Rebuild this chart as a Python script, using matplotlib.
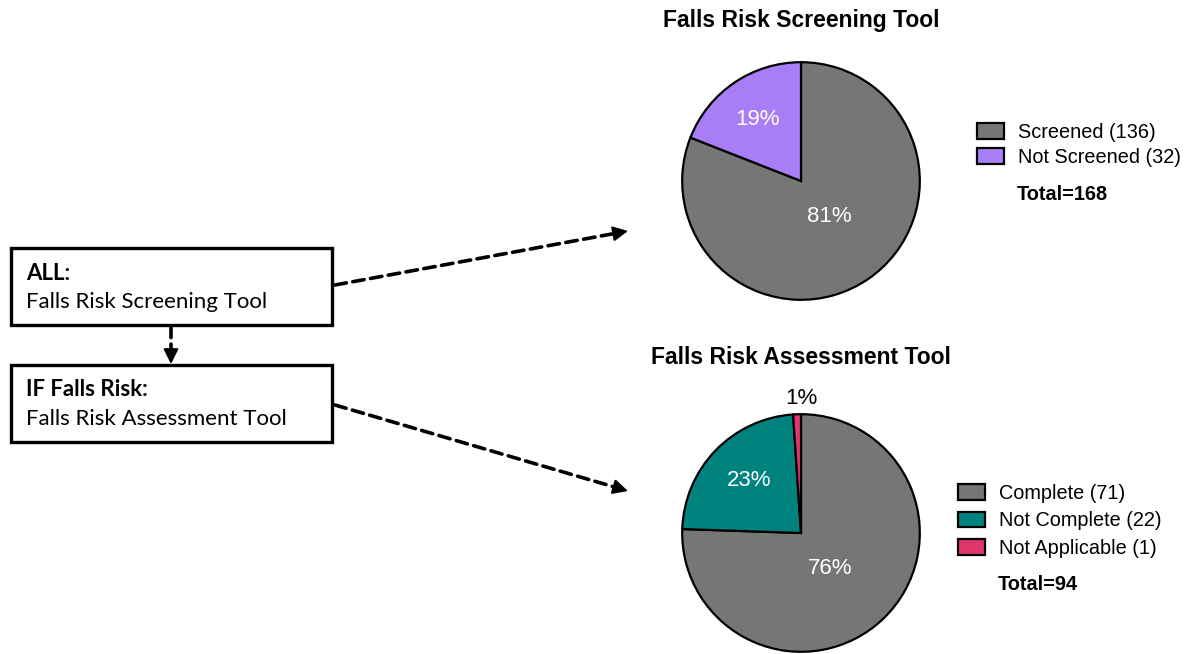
import matplotlib
matplotlib.use("Agg")
import matplotlib.pyplot as plt
import numpy as np
from matplotlib.patches import Rectangle

# ---------------------------------------
# Datos
# ---------------------------------------
screen_labels = ["Screened", "Not Screened"]
screen_counts = [136, 32]
screen_colors = ["#767676", "#A87EF7"]

assess_labels = ["Complete", "Not Complete", "Not Applicable"]
assess_counts = [71, 22, 1]
assess_colors = ["#767676", "#00837E", "#E2356B"]

W, H = 1186, 654
fig = plt.figure(figsize=(W / 100, H / 100), dpi=100)

# capa de fondo en pixeles para cajas y flechas
ax0 = fig.add_axes([0, 0, 1, 1])
ax0.set_xlim(0, W)
ax0.set_ylim(H, 0)
ax0.axis("off")

sans = ["Liberation Sans", "DejaVu Sans"]
box_font = ["Lato", "DejaVu Sans"]
pct_size = 16
leg_size = 14.3


def pie_axes(cx, cy, r):
    ax = fig.add_axes([(cx - r) / W, (H - cy - r) / H, 2 * r / W, 2 * r / H])
    ax.axis("off")
    return ax


def fix_limits(ax):
    # pie() pone limites de +-1.25, se ajustan al radio
    ax.set_xlim(-1, 1)
    ax.set_ylim(-1, 1)
    ax.set_aspect("equal")


def pct_labels(counts):
    tot = sum(counts)
    return [f"{round(100 * c / tot)}%" for c in counts]


def dashed_arrow(x0, y0, x1, y1):
    # linea punteada + punta solida (la punta no debe quedar punteada)
    d = np.array([x1 - x0, y1 - y0], dtype=float)
    d /= np.hypot(*d)
    bx, by = x1 - 13 * d[0], y1 - 13 * d[1]
    ax0.annotate("", xy=(bx, by), xytext=(x0, y0),
                 arrowprops=dict(arrowstyle="-", color="black", linestyle=(0, (3.2, 1.8)),
                                 linewidth=2.6, shrinkA=0, shrinkB=0))
    ax0.annotate("", xy=(x1, y1), xytext=(bx - 2 * d[0], by - 2 * d[1]),
                 arrowprops=dict(arrowstyle="-|>,head_length=0.9,head_width=0.45",
                                 color="black", linewidth=1.5, shrinkA=0, shrinkB=0))


# ---------------------------------------
# Pie 1: Screening
# ---------------------------------------
ax1 = pie_axes(801, 181, 120)
w1, _ = ax1.pie(screen_counts, colors=screen_colors, startangle=90, counterclock=False,
                radius=0.99, wedgeprops=dict(edgecolor="black", linewidth=1.6))
fix_limits(ax1)
p1 = pct_labels(screen_counts)
ax1.text(0.24, -0.30, p1[0], color="white", ha="center", va="center", fontsize=pct_size, family=sans)
ax1.text(-0.36, 0.51, p1[1], color="white", ha="center", va="center", fontsize=pct_size, family=sans)
ax0.text(801, 21, "Falls Risk Screening Tool", ha="center", va="center",
         fontsize=16.5, fontweight="bold", family=sans)
leg1 = ax0.legend(w1, [f"{l} ({c})" for l, c in zip(screen_labels, screen_counts)],
                  loc="upper left", bbox_to_anchor=(977, 123), bbox_transform=ax0.transData,
                  frameon=False, prop={"family": sans, "size": leg_size},
                  handlelength=1.37, handleheight=0.85, handletextpad=0.7,
                  labelspacing=0.3, borderpad=0, borderaxespad=0)
ax0.add_artist(leg1)
ax0.text(1017, 195, f"Total={sum(screen_counts)}", ha="left", va="center",
         fontsize=leg_size, fontweight="bold", family=sans)

# ---------------------------------------
# Pie 2: Assessment
# ---------------------------------------
ax2 = pie_axes(801, 533, 120)
w2, _ = ax2.pie(assess_counts, colors=assess_colors, startangle=90, counterclock=False,
                radius=0.99, wedgeprops=dict(edgecolor="black", linewidth=1.6))
fix_limits(ax2)
p2 = pct_labels(assess_counts)
ax2.text(0.24, -0.30, p2[0], color="white", ha="center", va="center", fontsize=pct_size, family=sans)
ax2.text(-0.43, 0.44, p2[1], color="white", ha="center", va="center", fontsize=pct_size, family=sans)
ax2.text(0.0, 1.12, p2[2], color="black", ha="center", va="center", fontsize=pct_size,
         family=sans, clip_on=False)
ax0.text(801, 358, "Falls Risk Assessment Tool", ha="center", va="center",
         fontsize=16.5, fontweight="bold", family=sans)
leg2 = ax0.legend(w2, [f"{l} ({c})" for l, c in zip(assess_labels, assess_counts)],
                  loc="upper left", bbox_to_anchor=(958, 484), bbox_transform=ax0.transData,
                  frameon=False, prop={"family": sans, "size": leg_size},
                  handlelength=1.37, handleheight=0.85, handletextpad=0.7,
                  labelspacing=0.42, borderpad=0, borderaxespad=0)
ax0.text(998, 585, f"Total={sum(assess_counts)}", ha="left", va="center",
         fontsize=leg_size, fontweight="bold", family=sans)

# ---------------------------------------
# Cajas del diagrama de flujo
# ---------------------------------------
for top, head, body in [(248, "ALL:", "Falls Risk Screening Tool"),
                        (365, "IF Falls Risk:", "Falls Risk Assessment Tool")]:
    ax0.add_patch(Rectangle((11, top), 321, 77, fill=False, edgecolor="black", linewidth=2.4))
    ax0.text(26, top + 25, head, ha="left", va="center", fontsize=16,
             fontweight="bold", family=box_font)
    ax0.text(26, top + 54, body, ha="left", va="center", fontsize=16, family=box_font)

dashed_arrow(171, 326, 171, 364)
dashed_arrow(335, 285, 628, 231)
dashed_arrow(335, 405, 628, 491)

fig.savefig("out.png", dpi=100)
